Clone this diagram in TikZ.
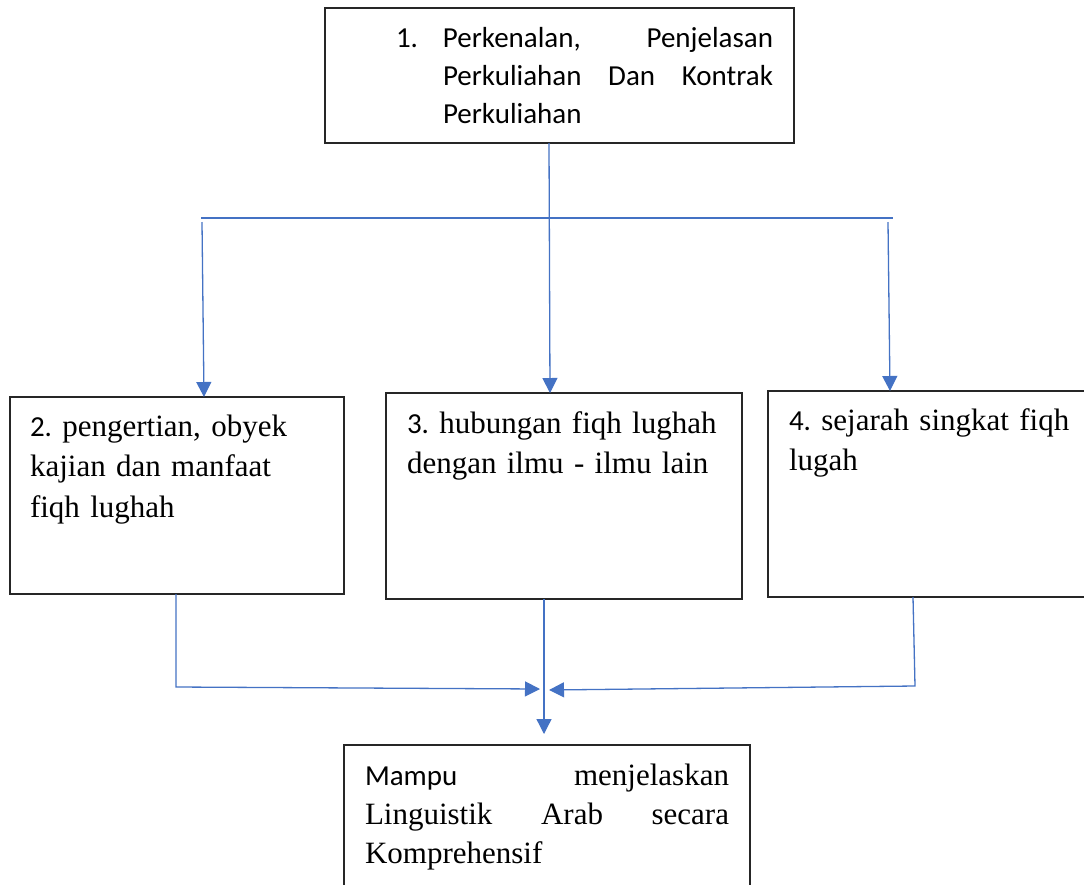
\documentclass[tikz,border=0pt]{standalone}
\usepackage{fontspec}
\setmainfont{Liberation Serif}[Ligatures=NoCommon]
\newfontfamily\calfnt{Carlito}
\usetikzlibrary{arrows.meta}
\definecolor{lnblue}{HTML}{4472C4}
\definecolor{bxline}{HTML}{262626}
\tikzset{
  boxnode/.style={draw=bxline, line width=1.5pt, inner sep=0pt, outer sep=0pt, fill=white},
  conn/.style={draw=lnblue, line width=1.3pt},
  arr/.style={conn, -{Triangle[width=15pt,length=15pt]}},
  serif/.style={inner sep=0pt, outer sep=0pt, anchor=north west, font=\frenchspacing\fontsize{31}{40.5}\selectfont},
  calib/.style={inner sep=0pt, outer sep=0pt, anchor=north west, font=\frenchspacing\calfnt\fontsize{29}{38}\selectfont},
}
\newcommand\topstrut{\rule{0pt}{30pt}}
\newcommand\calnum[1]{{\calfnt\fontsize{29}{40.5}\selectfont #1}}
\begin{document}
\frenchspacing
\begin{tikzpicture}[x=1pt,y=-1pt]
\useasboundingbox (0,0) rectangle (1084,884);
\clip (0,0) rectangle (1084,884);
\fill[white] (0,0) rectangle (1084,884);

% boxes
\node[boxnode, minimum width=469pt, minimum height=135pt] (b1) at (559.5,75.5) {};
\node[boxnode, minimum width=334pt, minimum height=197pt] (b2) at (177,495.5) {};
\node[boxnode, minimum width=356pt, minimum height=206pt] (b3) at (564,496) {};
\node[boxnode, minimum width=332pt, minimum height=206pt] (b4) at (934,494) {};
\node[boxnode, minimum width=406pt, minimum height=155pt] (b5) at (547,822.5) {};

% texts
\node[calib] (t1) at (396,17)
  {\topstrut\makebox[47pt][l]{1.}\parbox[t]{330pt}{\frenchspacing\calfnt\fontsize{29}{38}\selectfont Perkenalan, Penjelasan\linebreak Perkuliahan Dan Kontrak\linebreak Perkuliahan}};
\node[serif, text width=320pt, align=left] (t2) at (30,406)
  {\topstrut\calnum{2.} pengertian, obyek\\kajian dan manfaat\\fiqh lughah};
\node[serif, text width=340pt, align=left] (t3) at (407,403)
  {\topstrut\calnum{3.} hubungan fiqh lughah\\dengan ilmu - ilmu lain};
\node[serif, text width=300pt, align=left] (t4) at (789,400)
  {\topstrut\calnum{4.} sejarah singkat fiqh\\lugah};
\node[serif, text width=364pt, align=justify, font=\frenchspacing\fontsize{31}{39}\selectfont] (t5) at (365,755)
  {\topstrut{\calfnt\fontsize{29}{39}\selectfont Mampu} menjelaskan\linebreak Linguistik Arab secara\linebreak Komprehensif};

% branching connectors
\coordinate (hl) at (201,218);
\coordinate (hr) at (893,218);
\coordinate (lt) at (202,222);
\coordinate (rt) at (888,222);
\draw[conn] (hl) -- (hr);
\draw[arr] ([xshift=-10.5pt]b1.south) -- ([xshift=-14pt]b3.north);
\draw[arr] (lt) -- ([xshift=27pt]b2.north);
\draw[arr] (rt) -- ([xshift=-44pt]b4.north);

% merging connectors
\coordinate (lb) at (176,687);
\coordinate (mL) at (540,689);
\coordinate (rb) at (915,686);
\coordinate (mR) at (549,690);
\draw[arr] ([xshift=-1pt]b2.south) -- (lb) -- (mL);
\draw[arr] ([xshift=-21pt]b4.south) -- (rb) -- (mR);
\draw[arr] ([xshift=-20pt]b3.south) -- ([xshift=-3pt,yshift=11pt]b5.north);
\end{tikzpicture}
\end{document}
